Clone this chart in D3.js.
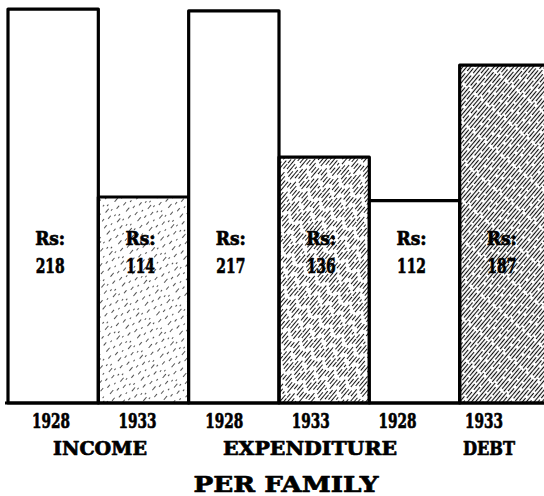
<!DOCTYPE html>
<html>
<head>
<meta charset="utf-8">
<script src="https://cdn.jsdelivr.net/npm/d3@7/dist/d3.min.js"></script>
<style>
  html, body { margin: 0; padding: 0; background: #fff; }
  svg { display: block; }
  text { font-family: "DejaVu Serif", "Liberation Serif", serif; font-weight: bold; stroke: #000; stroke-width: 0.7px; stroke-linejoin: round; }
</style>
</head>
<body>
<svg id="chart" width="544" height="496"></svg>
<script>
// ---- data ----
const categories = ["INCOME", "EXPENDITURE", "DEBT"];
const years = ["1928", "1933"];
const values1928 = [218, 217, 112];
const values1933 = [114, 136, 187];
const currencyLabel = "Rs:";
const subtitle = "PER FAMILY";

// ---- build bar records ----
const bars = [];
categories.forEach((c, i) => {
  bars.push({ key: c + "-1928", cat: c, ci: i, year: years[0], value: values1928[i] });
  bars.push({ key: c + "-1933", cat: c, ci: i, year: years[1], value: values1933[i] });
});

const svg = d3.select("#chart");
const W = 544, H = 496;
const baseY = 403;

const x = d3.scaleBand().domain(bars.map(d => d.key)).range([8, 550]).paddingInner(0).paddingOuter(0);
const y = d3.scaleLinear().domain([0, 223]).range([baseY, 0]);

// ---- hatch patterns ----
const defs = svg.append("defs");
const hatchStyles = [
  { id: "hatch0", dashes: ["4 12", "2 16", "5 11", "3 14", "4 13"], op: 0.75, sw: 0.9 },
  { id: "hatch1", dashes: ["10 4", "7 5", "12 3", "6 6", "9 4"], op: 0.9, sw: 1.0 },
  { id: "hatch2", dashes: ["18 2", "14 3", "22 2", "12 2", "16 3"], op: 0.95, sw: 1.1 }
];
hatchStyles.forEach(h => {
  const p = defs.append("pattern")
    .attr("id", h.id)
    .attr("patternUnits", "userSpaceOnUse")
    .attr("width", 15).attr("height", 30)
    .attr("patternTransform", "rotate(40)");
  h.dashes.forEach((da, k) => {
    p.append("line")
      .attr("x1", 1.5 + k * 3).attr("x2", 1.5 + k * 3)
      .attr("y1", -2).attr("y2", 32)
      .attr("stroke", "#000")
      .attr("stroke-opacity", h.op)
      .attr("stroke-width", h.sw)
      .attr("stroke-dasharray", da)
      .attr("stroke-dashoffset", k * 7);
  });
});

// ---- bars ----
svg.append("g").selectAll("rect")
  .data(bars)
  .join("rect")
  .attr("x", d => x(d.key))
  .attr("y", d => y(d.value))
  .attr("width", x.bandwidth())
  .attr("height", d => baseY - y(d.value))
  .attr("fill", d => d.year === years[1] ? `url(#hatch${d.ci})` : "#fff")
  .attr("stroke", "#000")
  .attr("stroke-width", 3.2)
  .attr("stroke-linejoin", "round");

// baseline
svg.append("line")
  .attr("x1", 5).attr("x2", W)
  .attr("y1", baseY).attr("y2", baseY)
  .attr("stroke", "#000").attr("stroke-width", 3.2);

// ---- value labels inside bars ----
const lbl = svg.append("g").attr("text-anchor", "middle").attr("fill", "#000");
lbl.selectAll("text.rs")
  .data(bars)
  .join("text")
  .attr("class", "rs")
  .attr("x", d => x(d.key) + x.bandwidth() / 2 - 3)
  .attr("y", 245)
  .attr("font-size", 18)
  .attr("textLength", 30)
  .attr("lengthAdjust", "spacingAndGlyphs")
  .text(currencyLabel);
lbl.selectAll("text.val")
  .data(bars)
  .join("text")
  .attr("class", "val")
  .attr("x", d => x(d.key) + x.bandwidth() / 2 - 3)
  .attr("y", 273)
  .attr("font-size", 20)
  .attr("textLength", 29)
  .attr("lengthAdjust", "spacingAndGlyphs")
  .text(d => d.value);

// ---- year labels ----
const xYear = d3.scalePoint().domain(bars.map(d => d.key)).range([51, 484]);
svg.append("g").selectAll("text")
  .data(bars)
  .join("text")
  .attr("x", d => xYear(d.key))
  .attr("y", 428)
  .attr("text-anchor", "middle")
  .attr("font-size", 20)
  .attr("textLength", 38)
  .attr("lengthAdjust", "spacingAndGlyphs")
  .text(d => d.year);

// ---- category labels ----
const catX = [100, 310, 489];
const catW = [94, 174, 52];
svg.append("g").selectAll("text")
  .data(categories)
  .join("text")
  .attr("x", (d, i) => catX[i])
  .attr("y", 455)
  .attr("text-anchor", "middle")
  .attr("font-size", 18)
  .attr("textLength", (d, i) => catW[i])
  .attr("lengthAdjust", "spacingAndGlyphs")
  .text(d => d);

// ---- subtitle ----
svg.append("text")
  .attr("x", 286).attr("y", 492)
  .attr("text-anchor", "middle")
  .attr("font-size", 23)
  .attr("textLength", 185)
  .attr("lengthAdjust", "spacingAndGlyphs")
  .text(subtitle);
</script>
</body>
</html>
